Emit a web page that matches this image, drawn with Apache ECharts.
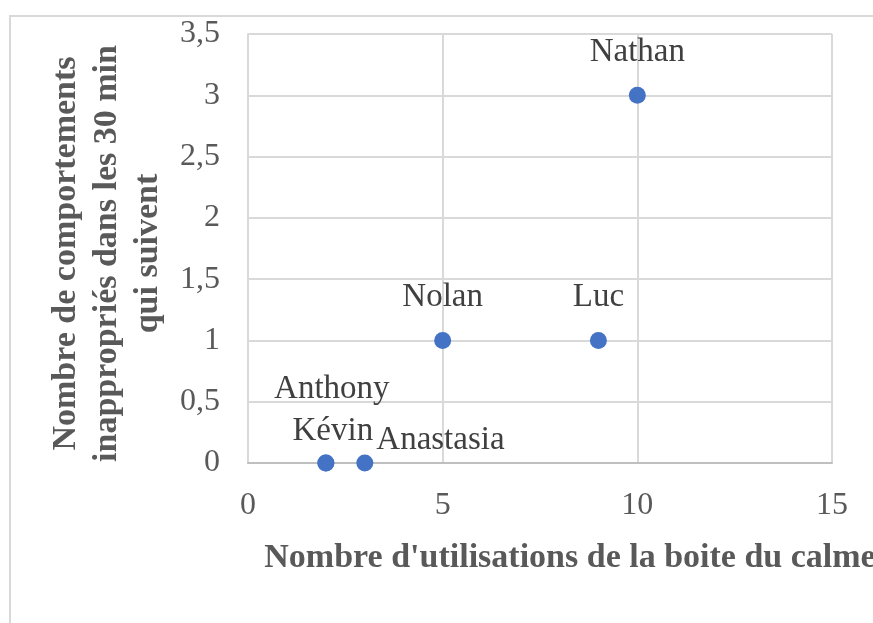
<!DOCTYPE html>
<html>
<head>
<meta charset="utf-8">
<script src="https://cdn.jsdelivr.net/npm/echarts@6/dist/echarts.min.js"></script>
<style>
  html, body { margin: 0; padding: 0; background: #fff; }
  #chart { width: 873px; height: 623px; }
</style>
</head>
<body>
<div id="chart"></div>
<script>
// données
const names = ['Anthony', 'Kévin', 'Anastasia', 'Nolan', 'Luc', 'Nathan'];
const utilisations = [2, 2, 3, 5, 9, 10];
const comportements = [0, 0, 0, 1, 1, 3];
const xTitle = "Nombre d'utilisations de la boite du calme";
const yTitle = 'Nombre de comportements\ninappropriés dans les 30 min\nqui suivent';

const serif = "'Liberation Serif', 'Times New Roman', serif";

// décalages des étiquettes (style uniquement)
const labelStyle = {
    'Anthony': { position: 'top', distance: 18, offset: [6, -31] },
    'Kévin': { position: 'top', distance: 18, offset: [7, 11] },
    'Anastasia': { position: 'right', distance: 3, offset: [0, -23] }
};

const dom = document.getElementById('chart');
const myChart = echarts.init(dom);

const points = names.map((n, i) => {
    const item = { name: n, value: [utilisations[i], comportements[i]] };
    if (labelStyle[n]) item.label = labelStyle[n];
    return item;
});

const option = {
    backgroundColor: '#fff',
    animation: false,
    graphic: [{
        type: 'rect',
        shape: { x: 10, y: 16, width: 900, height: 700 },
        style: { fill: 'none', stroke: '#d9d9d9', lineWidth: 2 },
        silent: true
    }],
    grid: { left: 248, top: 34, right: 41, bottom: 160, containLabel: false, outerBoundsMode: 'none' },
    xAxis: {
        type: 'value',
        min: 0,
        max: 15,
        interval: 5,
        name: xTitle,
        nameLocation: 'middle',
        nameGap: 78,
        nameTextStyle: {
            fontFamily: serif, fontSize: 34, fontWeight: 'bold', color: '#595959',
            padding: [0, 0, 0, 60]
        },
        axisLine: { show: true, lineStyle: { color: '#bfbfbf', width: 2 } },
        axisTick: { show: false },
        splitLine: { show: true, lineStyle: { color: '#d9d9d9', width: 2 } },
        axisLabel: { fontFamily: serif, fontSize: 32, color: '#595959', margin: 27 }
    },
    yAxis: {
        type: 'value',
        min: 0,
        max: 3.5,
        interval: 0.5,
        name: yTitle,
        nameLocation: 'middle',
        nameGap: 50,
        nameTextStyle: {
            fontFamily: serif, fontSize: 34, fontWeight: 'bold', color: '#595959',
            lineHeight: 41,
            padding: [0, 10, 0, 0]
        },
        axisLine: { show: true, lineStyle: { color: '#d9d9d9', width: 2 } },
        axisTick: { show: false },
        splitLine: { show: true, lineStyle: { color: '#d9d9d9', width: 2 } },
        axisLabel: {
            fontFamily: serif, fontSize: 32, color: '#595959', margin: 28,
            padding: [4, 0, 0, 0],
            formatter: v => String(v).replace('.', ',')
        }
    },
    series: [{
        type: 'scatter',
        symbolSize: 17,
        itemStyle: { color: '#4472c4', opacity: 1 },
        label: {
            show: true,
            position: 'top',
            distance: 18,
            formatter: p => p.name,
            fontFamily: serif,
            fontSize: 33,
            color: '#404040'
        },
        data: points
    }]
};

myChart.setOption(option);
</script>
</body>
</html>
